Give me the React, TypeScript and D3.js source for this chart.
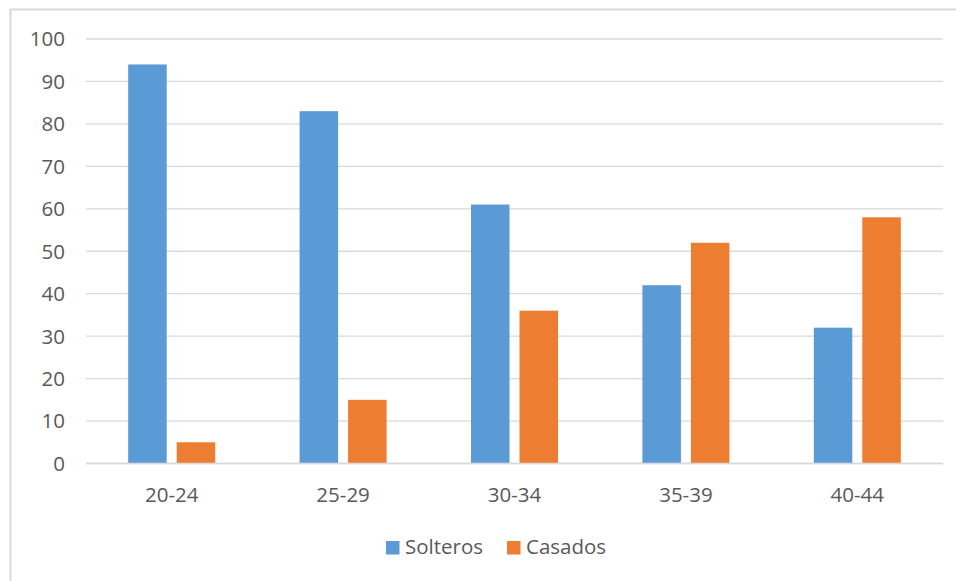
import React from "react";
import * as d3 from "d3";

const categories = ["20-24", "25-29", "30-34", "35-39", "40-44"];
const seriesNames = ["Solteros", "Casados"];
const solteros = [94, 83, 61, 42, 32];
const casados = [5, 15, 36, 52, 58];
const yTicks = [0, 10, 20, 30, 40, 50, 60, 70, 80, 90, 100];
const colors = ["#5B9BD5", "#ED7D31"];

export default function App() {
  const W = 956, H = 581;
  const left = 86, right = 943, top = 39, bottom = 463.5;
  const x0 = d3.scaleBand<string>().domain(categories).range([left, right]);
  const x1 = d3
    .scaleBand<string>()
    .domain(seriesNames)
    .range([0, x0.bandwidth()])
    .paddingInner(0.206)
    .paddingOuter(0.87);
  const y = d3.scaleLinear().domain([0, 100]).range([bottom, top]);
  const values = [solteros, casados];
  const font = "'Open Sans', sans-serif";
  const textColor = "#595959";

  return (
    <svg
      width={W}
      height={H}
      style={{ position: "absolute", left: 0, top: 0, background: "#fff" }}
      fontFamily={font}
    >
      <rect x={10.5} y={9.5} width={1000} height={1000} fill="#fff" stroke="#D9D9D9" strokeWidth={2} />
      {yTicks.map((t) => (
        <g key={t}>
          <line x1={left} x2={right} y1={y(t)} y2={y(t)} stroke="#D9D9D9" strokeWidth={1.3} />
          <text x={65} y={y(t)} dy="0.36em" textAnchor="end" fontSize={20.5} fill={textColor}>
            {t}
          </text>
        </g>
      ))}
      {categories.map((c, i) => (
        <g key={c}>
          {seriesNames.map((s, j) => (
            <rect
              key={s}
              x={(x0(c) as number) + (x1(s) as number)}
              y={y(values[j][i])}
              width={x1.bandwidth()}
              height={y(0) - y(values[j][i])}
              fill={colors[j]}
            />
          ))}
          <text
            x={(x0(c) as number) + x0.bandwidth() / 2}
            y={501.5}
            textAnchor="middle"
            fontSize={20.5}
            fill={textColor}
          >
            {c}
          </text>
        </g>
      ))}
      <line x1={left} x2={right} y1={y(0)} y2={y(0)} stroke="#D9D9D9" strokeWidth={1.3} />
      {seriesNames.map((s, j) => {
        const lx = j === 0 ? 386 : 507;
        return (
          <g key={s}>
            <rect x={lx} y={541} width={13.5} height={13.5} fill={colors[j]} />
            <text x={lx + 19} y={554} fontSize={20.5} fill={textColor}>
              {s}
            </text>
          </g>
        );
      })}
    </svg>
  );
}
